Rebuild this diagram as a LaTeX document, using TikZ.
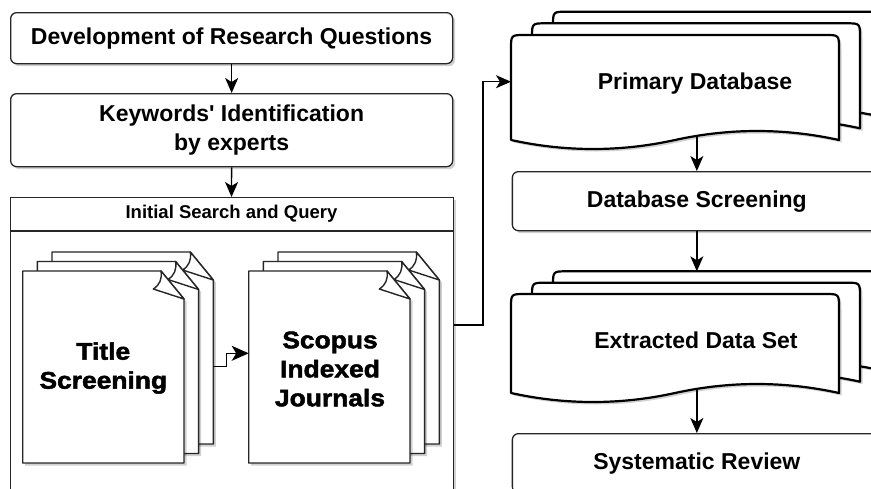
\documentclass[tikz,border=0pt]{standalone}
\usepackage{fontspec}
\setmainfont{Liberation Sans}
\newfontfamily\heavy[FakeStretch=1.1,FakeBold=2]{Liberation Sans}
\usetikzlibrary{arrows.meta,shadows,calc}

\tikzset{
  shad/.style={drop shadow={shadow xshift=2.5pt,shadow yshift=-2.5pt,opacity=.18,fill=black}},
  rbox/.style={draw=black!85,line width=1.3pt,rounded corners=6pt,fill=white,shad,
    font=\fontsize{23}{29}\selectfont\bfseries,align=center,inner sep=0pt,anchor=north west},
  contbox/.style={draw=black!85,line width=1.3pt,fill=white,shad,inner sep=0pt,anchor=north west},
  ghost/.style={inner sep=0pt,outer sep=0pt,anchor=north west},
  paper/.style={draw=black!85,line width=1.4pt,fill=white,shad,line join=round},
  flap/.style={draw=black!85,line width=1.4pt,fill=white,line join=round},
  docline/.style={draw=black,line width=2.2pt,fill=white,shad,line join=round},
  heavytxt/.style={font=\heavy\bfseries\fontsize{24}{29}\selectfont,align=center},
  doctxt/.style={font=\fontsize{23}{29}\selectfont\bfseries,align=center},
  arr/.style={-{Stealth[length=15pt,width=13pt,inset=4pt]},line width=1.3pt,draw=black},
  bigarr/.style={-{Stealth[length=17pt,width=15pt,inset=4.5pt]},line width=1.3pt,draw=black}
}

% paper page with folded corner: x, y (top-left); w=161.3, h=192
\newcommand{\paperpage}[2]{%
  \draw[paper] (#1,#2) -- (#1+138.3,#2) -- (#1+161.3,#2+28) -- (#1+161.3,#2+192) -- (#1,#2+192) -- cycle;
  \draw[flap] (#1+138.3,#2) .. controls (#1+139.5,#2+8) and (#1+137,#2+14) .. (#1+130.6,#2+18) -- (#1+161.3,#2+28) -- cycle;
}
% document page with wavy bottom: x, y, w, h
\newcommand{\docpage}[4]{%
  \draw[docline] (#1,#2+#4) -- (#1,#2+14) .. controls (#1,#2) .. (#1+14,#2)
    -- (#1+#3-14,#2) .. controls (#1+#3,#2) .. (#1+#3,#2+14)
    -- (#1+#3,#2+#4)
    .. controls (#1+#3*5/6,#2+#4-12) and (#1+#3*2/3,#2+#4-12) .. (#1+#3/2,#2+#4)
    .. controls (#1+#3/3,#2+#4+12) and (#1+#3/6,#2+#4+12) .. (#1,#2+#4) -- cycle;
}

\begin{document}
\begin{tikzpicture}[x=1pt,y=-1pt]
\useasboundingbox (0,0) rectangle (871,488);
\clip (0,0) rectangle (871,488);
\fill[white] (0,0) rectangle (871,488);

% left column
\node[rbox,minimum width=442pt,minimum height=51pt] (dev) at (10,12) {Development of Research Questions};
\node[rbox,minimum width=442pt,minimum height=73pt] (kw) at (10,93) {Keywords\textquotesingle\ Identification\\by experts};

\node[contbox,minimum width=443pt,minimum height=340pt] (isqc) at (10,197) {};
\node[ghost,minimum width=443pt,minimum height=34pt,font=\fontsize{18.5}{22}\selectfont\bfseries] (isq) at (10,197) {Initial Search and Query};
\draw[line width=1.3pt,draw=black!85] (isq.south west) -- (isq.south east);

% Title Screening stack
\paperpage{52}{252}
\paperpage{37.3}{261.5}
\paperpage{22.7}{271}
\node[ghost,minimum width=161.3pt,minimum height=192pt] (ts3) at (52,252) {};
\node[ghost,minimum width=161.3pt,minimum height=192pt] (ts) at (22.7,271) {};
\node[heavytxt] (tstxt) at (103.3,368) {Title\\Screening};

% Scopus stack
\paperpage{278}{252}
\paperpage{263.3}{261.5}
\paperpage{248.7}{271}
\node[ghost,minimum width=161.3pt,minimum height=192pt] (sij) at (248.7,271) {};
\node[heavytxt] (sijtxt) at (330,369) {Scopus\\Indexed\\Journals};

% right column
\docpage{553}{11.7}{328}{105}
\docpage{532}{23.3}{328}{105}
\docpage{511}{35}{328}{105}
\node[ghost,minimum width=328pt,minimum height=105pt] (pdb) at (511,35) {};
\node[doctxt] (pdbtxt) at (695,84) {Primary Database};

\node[rbox,minimum width=369pt,minimum height=59pt] (dbs) at (511.7,171) {Database Screening};

\docpage{553}{271.3}{328}{99}
\docpage{532}{282.7}{328}{99}
\docpage{511}{294}{328}{99}
\node[ghost,minimum width=328pt,minimum height=99pt] (ext3) at (553,271.3) {};
\node[ghost,minimum width=328pt,minimum height=99pt] (ext) at (511,294) {};
\node[doctxt] (exttxt) at (696,340) {Extracted Data Set};

\node[rbox,minimum width=369pt,minimum height=59pt] (sr) at (511.7,433) {Systematic Review};

% connectors
\draw[arr] (dev.south) -- (kw.north);
\draw[arr] (kw.south) -- (isq.north);
\draw[bigarr] ([yshift=-18.7pt]ts3.east) -- ++(13.4,0) |- ([yshift=13.7pt]sij.west);
\draw[arr] ([yshift=-128pt]isqc.north east) -- ++(28.7,0) |- ([yshift=5.8pt]pdb.west);
\draw[arr] ([yshift=4pt]dbs.north |- pdb.south) -- (dbs.north);
\draw[arr] (dbs.south) -- (dbs.south |- ext3.north);
\draw[arr] ([yshift=4pt]sr.north |- ext.south) -- (sr.north);
\end{tikzpicture}
\end{document}
